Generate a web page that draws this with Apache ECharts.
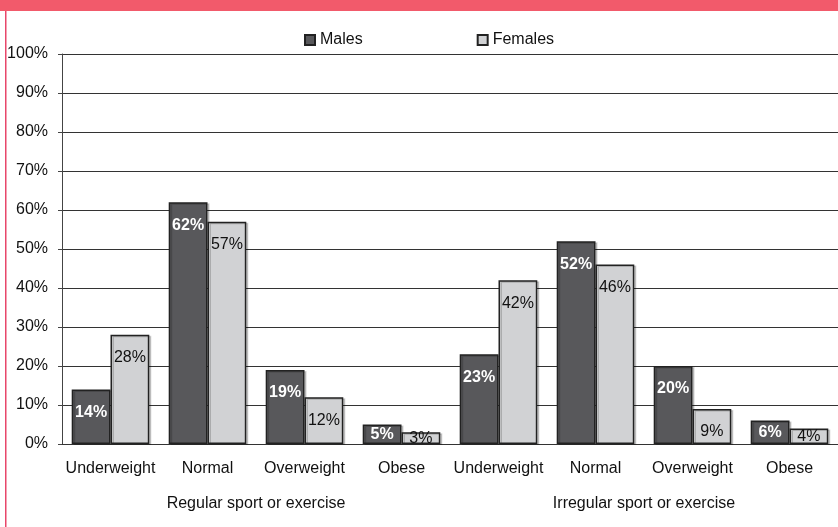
<!DOCTYPE html>
<html>
<head>
<meta charset="utf-8">
<script src="https://cdn.jsdelivr.net/npm/echarts@6/dist/echarts.min.js"></script>
<style>
  html, body { margin: 0; padding: 0; background: #fff; }
  #main { width: 838px; height: 527px; }
</style>
</head>
<body>
<div id="main"></div>
<script>
var categories = ['Underweight', 'Normal', 'Overweight', 'Obese', 'Underweight', 'Normal', 'Overweight', 'Obese'];
var groups = ['Regular sport or exercise', 'Irregular sport or exercise'];
var males = [14, 62, 19, 5, 23, 52, 20, 6];
var females = [28, 57, 12, 3, 42, 46, 9, 4];

var chart = echarts.init(document.getElementById('main'));
var font = '"Liberation Sans", Arial, Helvetica, sans-serif';

// short bars get the label in the middle, the rest near the top
function withLabels(arr) {
  return arr.map(function (v) {
    if (v <= 6) {
      return { value: v, label: { position: 'inside', distance: 0 } };
    }
    return v;
  });
}

var option = {
  backgroundColor: '#fff',
  textStyle: { fontFamily: font },
  animation: false,
  graphic: [
    { type: 'rect', left: 0, top: 0, shape: { width: 838, height: 11 }, style: { fill: '#f25a6b' } },
    { type: 'rect', left: 5, top: 11, shape: { width: 1.5, height: 516 }, style: { fill: '#e8476a' } }
  ],
  legend: {
    data: ['Males', 'Females'],
    left: 299,
    top: 27,
    itemWidth: 10,
    itemHeight: 10,
    itemGap: 114,
    icon: 'rect',
    textStyle: { fontSize: 16, color: '#111', fontFamily: font }
  },
  grid: { left: 62, right: 0, top: 54, bottom: 83 },
  xAxis: [{
    type: 'category',
    data: categories,
    axisLine: { lineStyle: { color: '#333', width: 1 } },
    axisTick: { show: false },
    axisLabel: { fontSize: 16, color: '#111', margin: 17, interval: 0 }
  }, {
    type: 'category',
    data: groups,
    position: 'bottom',
    offset: 44,
    axisLine: { show: false },
    axisTick: { show: false },
    axisLabel: { fontSize: 16, color: '#111', margin: 8 }
  }],
  yAxis: {
    type: 'value',
    min: 0,
    max: 100,
    interval: 10,
    axisLine: { show: true, lineStyle: { color: '#444' } },
    axisTick: { show: true, length: 4, lineStyle: { color: '#444' } },
    axisLabel: { formatter: '{value}%', fontSize: 16, color: '#111', margin: 14 },
    splitLine: { lineStyle: { color: '#333', width: 1 } }
  },
  series: [{
    name: 'Males',
    type: 'bar',
    data: withLabels(males),
    barGap: '0%',
    barCategoryGap: '20%',
    itemStyle: {
      color: '#58585b', borderColor: '#222', borderWidth: 1.5,
      shadowColor: 'rgba(0,0,0,0.18)', shadowOffsetX: 2, shadowOffsetY: 1
    },
    label: {
      show: true, position: 'insideTop', distance: 15,
      formatter: '{c}%', color: '#fff', fontWeight: 'bold', fontSize: 16
    }
  }, {
    name: 'Females',
    type: 'bar',
    data: withLabels(females),
    itemStyle: {
      color: '#d1d2d4', borderColor: '#222', borderWidth: 1.5,
      shadowColor: 'rgba(0,0,0,0.18)', shadowOffsetX: 2, shadowOffsetY: 1
    },
    label: {
      show: true, position: 'insideTop', distance: 15,
      formatter: '{c}%', color: '#111', fontSize: 16
    }
  }]
};

chart.setOption(option);
</script>
</body>
</html>
